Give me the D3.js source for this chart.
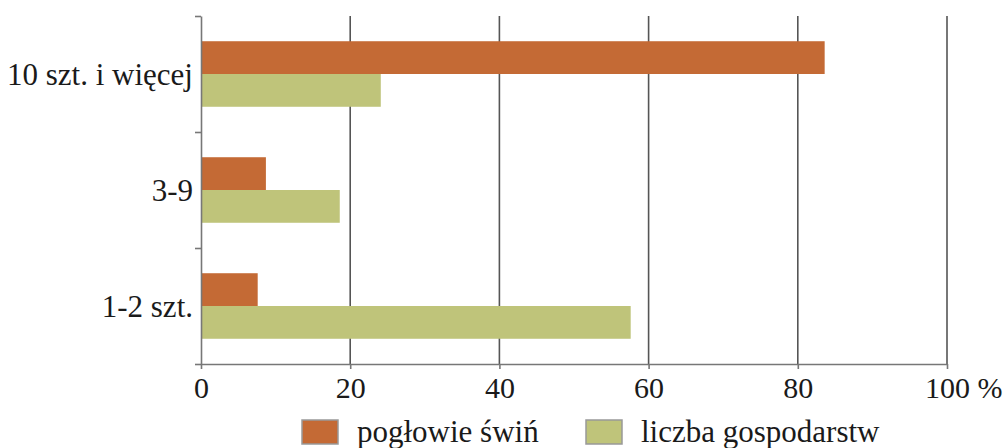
<!DOCTYPE html>
<html>
<head>
<meta charset="utf-8">
<script src="https://cdn.jsdelivr.net/npm/d3@7/dist/d3.min.js"></script>
<style>
  html, body { margin: 0; padding: 0; background: #fff; }
  svg { display: block; }
  text { font-family: "Liberation Serif", "Times New Roman", serif; fill: #1a1a1a; }
</style>
</head>
<body>
<svg id="chart" width="1005" height="448"></svg>
<script>
// ---- data ----
const categories = ["10 szt. i więcej", "3-9", "1-2 szt."];
const seriesNames = ["pogłowie świń", "liczba gospodarstw"];
const pigs = [83.6, 8.7, 7.6];          // pogłowie świń (%)
const farms = [24.1, 18.6, 57.6];       // liczba gospodarstw (%)
const xTicks = [0, 20, 40, 60, 80, 100];
const colors = ["#C46A35", "#BFC47A"];

(function () {
// ---- layout ----
const svg = d3.select("#chart");
const mLeft = 201, mRight = 947, mTop = 16, mBottom = 364;
const fontSize = 30, labelSize = 31;

const x = d3.scaleLinear().domain([0, 100]).range([mLeft, mRight]);
const y = d3.scaleBand().domain(categories).range([mTop, mBottom])
  .paddingInner(0.435).paddingOuter(0.2175);
const ySub = d3.scaleBand().domain(seriesNames).range([0, y.bandwidth()]);
const yBound = d3.scaleLinear().domain([0, categories.length]).range([mTop, mBottom]);

// gridlines
svg.append("g")
  .selectAll("line")
  .data(xTicks.filter(d => d > 0))
  .join("line")
  .attr("x1", d => x(d)).attr("x2", d => x(d))
  .attr("y1", mTop).attr("y2", mBottom)
  .attr("stroke", "#555").attr("stroke-width", 1.6);

// bars
const rows = categories.map((c, i) => ({ cat: c, values: [pigs[i], farms[i]] }));
const g = svg.append("g");
rows.forEach(r => {
  r.values.forEach((v, j) => {
    g.append("rect")
      .attr("x", x(0))
      .attr("y", y(r.cat) + ySub(seriesNames[j]))
      .attr("width", x(v) - x(0))
      .attr("height", ySub.bandwidth())
      .attr("fill", colors[j]);
  });
});

// y axis (boundary ticks)
const yAxis = svg.append("g")
  .attr("transform", `translate(${mLeft},0)`)
  .call(d3.axisLeft(yBound).tickValues(d3.range(categories.length + 1)).tickFormat("").tickSize(6).tickSizeOuter(0));
yAxis.select(".domain").attr("stroke", "#777").attr("stroke-width", 1.6);
yAxis.selectAll(".tick line").attr("stroke", "#777").attr("stroke-width", 1.6);

// category labels
svg.append("g")
  .selectAll("text")
  .data(categories)
  .join("text")
  .attr("x", 193)
  .attr("y", d => y(d) + y.bandwidth() / 2)
  .attr("dy", "0.34em")
  .attr("text-anchor", "end")
  .attr("font-size", labelSize)
  .text(d => d);

// x axis
const xAxis = svg.append("g")
  .attr("transform", `translate(0,${mBottom})`)
  .call(d3.axisBottom(x).tickValues(xTicks).tickSize(5).tickSizeOuter(0)
    .tickFormat(d => d === 100 ? "100 %" : d));
xAxis.select(".domain").attr("stroke", "#777").attr("stroke-width", 1.6);
xAxis.selectAll(".tick line").attr("stroke", "#777").attr("stroke-width", 1.6);
xAxis.selectAll(".tick text")
  .attr("font-family", '"Liberation Serif", "Times New Roman", serif')
  .attr("font-size", fontSize)
  .attr("fill", "#1a1a1a")
  .attr("y", 34)
  .attr("dy", 0);
xAxis.selectAll(".tick text").filter(d => d === 100)
  .attr("text-anchor", "start")
  .attr("x", -0.75 * fontSize);

// legend
const legendX = [302, 586];
const legend = svg.append("g");
seriesNames.forEach((s, j) => {
  legend.append("rect")
    .attr("x", legendX[j]).attr("y", 420)
    .attr("width", 36).attr("height", 24)
    .attr("fill", colors[j])
    .attr("stroke", "#999").attr("stroke-width", 1.5);
  legend.append("text")
    .attr("x", legendX[j] + 55).attr("y", 442)
    .attr("font-size", labelSize)
    .text(s);
});
})();
</script>
</body>
</html>
